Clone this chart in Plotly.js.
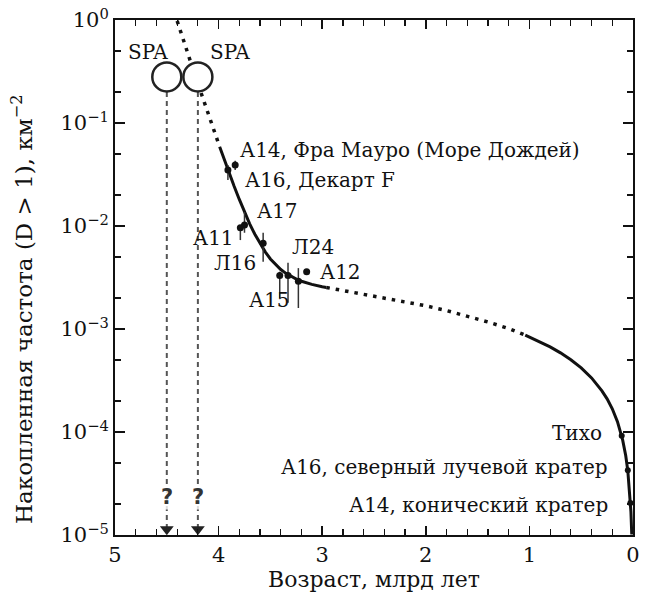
<!DOCTYPE html>
<html><head><meta charset="utf-8">
<script src="https://cdn.plot.ly/plotly-3.0.1.min.js"></script>
<style>body{margin:0;background:#fff}#chart{width:645px;height:596px}</style>
</head><body><div id="chart"></div>
<script>
// Curve, split into drawn segments
const earlyDotAge = [4.40, 4.35, 4.30, 4.25, 4.20, 4.15, 4.10, 4.05, 4.00, 3.99];
const earlyDotN   = [0.98, 0.676, 0.479, 0.340, 0.241, 0.172, 0.122, 0.0875, 0.0628, 0.0588];
const midSolidAge = [3.99, 3.95, 3.90, 3.85, 3.80, 3.75, 3.70, 3.65, 3.60, 3.55, 3.50, 3.45, 3.40, 3.35, 3.30, 3.25, 3.20, 3.15, 3.10, 3.00, 2.96];
const midSolidN   = [0.0588, 0.0454, 0.0330, 0.0243, 0.0181, 0.0137, 0.0105, 0.00832, 0.00674, 0.00561, 0.00479, 0.00421, 0.00378, 0.00347, 0.00323, 0.00305, 0.00291, 0.00280, 0.00271, 0.00257, 0.00253];
const lateDotAge  = [2.96, 2.80, 2.60, 2.40, 2.20, 2.00, 1.80, 1.60, 1.40, 1.20, 1.04];
const lateDotN    = [0.00253, 0.00236, 0.00218, 0.00201, 0.00184, 0.00168, 0.00151, 0.00134, 0.00117, 0.00101, 0.000872];
const youngAge    = [1.04, 0.90, 0.80, 0.70, 0.60, 0.50, 0.40, 0.30, 0.25, 0.20, 0.15, 0.10, 0.07, 0.05, 0.03, 0.02, 0.012];
const youngN      = [0.000872, 0.000754, 0.000670, 0.000587, 0.000503, 0.000419, 0.000335, 0.000251, 0.000210, 0.000168, 0.000126, 0.0000838, 0.0000587, 0.0000419, 0.0000251, 0.0000168, 0.0000101];

// Dated samples with vertical bars
const siteNames = ["А14", "А16", "А17", "А11", "Л16", "А15", "Л24", "А15b", "А12"];
const siteAge   = [3.84, 3.91, 3.75, 3.79, 3.57, 3.41, 3.33, 3.23, 3.15];
const siteN     = [0.039, 0.035, 0.0102, 0.0096, 0.0068, 0.0033, 0.0033, 0.0029, 0.0036];
const siteLow   = [0.035, 0.028, 0.0086, 0.0073, 0.0045, 0.0020, 0.0018, 0.0016, 0.0036];
const siteHigh  = [0.043, 0.039, 0.0137, 0.0102, 0.0086, 0.0036, 0.0044, 0.0039, 0.0036];

const youngSiteAge = [0.109, 0.050, 0.025];
const youngSiteN   = [0.000092, 0.0000425, 0.0000205];

const spaAge = [4.5, 4.2];
const spaN   = [0.28, 0.28];
const spaLineTop = 0.2;
const arrowY = 1.14e-5;

const xTicks = [5, 4, 3, 2, 1, 0];
const yTickVals = [1, 0.1, 0.01, 0.001, 0.0001, 0.00001];
const yTickText = ["10<sup>0</sup>", "10<sup>−1</sup>", "10<sup>−2</sup>", "10<sup>−3</sup>", "10<sup>−4</sup>", "10<sup>−5</sup>"];

const serif = "'DejaVu Serif', serif";
const dotDash = "3.5px,6px";
function mkFont(size) { return {family: serif, size: size, color: "#111"}; }

const traces = [];
spaAge.forEach(a => traces.push({x: [a, a], y: [spaLineTop, arrowY], mode: "lines", line: {color: "#555", width: 2, dash: "5px,4px"}, hoverinfo: "skip", cliponaxis: false}));
traces.push({x: earlyDotAge, y: earlyDotN, mode: "lines", line: {color: "#111", width: 3.5, dash: dotDash}});
traces.push({x: midSolidAge, y: midSolidN, mode: "lines", line: {color: "#111", width: 3}});
traces.push({x: lateDotAge, y: lateDotN, mode: "lines", line: {color: "#111", width: 3.5, dash: dotDash}});
traces.push({x: youngAge, y: youngN, mode: "lines", line: {color: "#111", width: 3}});
traces.push({x: siteAge, y: siteN, mode: "markers", marker: {color: "#111", size: 7},
  error_y: {type: "data", symmetric: false,
    array: siteHigh.map((h, i) => h - siteN[i]),
    arrayminus: siteN.map((n, i) => n - siteLow[i]),
    color: "#333", thickness: 1.5, width: 0}});
traces.push({x: youngSiteAge, y: youngSiteN, mode: "markers", marker: {color: "#111", size: 6}, cliponaxis: false});
traces.push({x: spaAge, y: spaN, mode: "markers", marker: {symbol: "circle", size: 29, color: "#fff", line: {color: "#222", width: 2.5}}, cliponaxis: false});
traces.push({x: spaAge, y: spaAge.map(() => arrowY), mode: "markers", marker: {symbol: "triangle-down", size: 12, color: "#222"}, cliponaxis: false});

function lab(text, x, y, xa) { return {text, x, y: Math.log10(y), xref: "x", yref: "y", xanchor: xa, yanchor: "middle", showarrow: false, font: mkFont(20)}; }
const annotations = [
  lab("А14, Фра Мауро (Море Дождей)", 3.81, 0.0547, "left"),
  lab("А16, Декарт F", 3.765, 0.028, "left"),
  lab("А17", 3.65, 0.014, "left"),
  lab("А11", 3.83, 0.0076, "right"),
  lab("Л16", 3.62, 0.0044, "right"),
  lab("Л24", 3.31, 0.0062, "left"),
  lab("А12", 3.04, 0.0036, "left"),
  lab("А15", 3.73, 0.0019, "left"),
  lab("Тихо", 0.28, 0.000098, "right"),
  lab("А16, северный лучевой кратер", 0.222, 0.0000457, "right"),
  lab("А14, конический кратер", 0.222, 0.0000195, "right"),
  lab("SPA", 4.68, 0.49, "center"),
  lab("SPA", 3.89, 0.49, "center"),
  {text: "Накопленная частота (D > 1), км<sup>−2</sup>", xref: "paper", yref: "paper", x: -0.1795, y: 0.437, xanchor: "center", yanchor: "middle", textangle: -90, showarrow: false, font: mkFont(23)}
];
spaAge.forEach(a => annotations.push({text: "<b>?</b>", x: a, y: Math.log10(2.34e-5), xref: "x", yref: "y", showarrow: false, xanchor: "center", yanchor: "middle", bgcolor: "rgba(255,255,255,0.8)", borderpad: 0, font: {family: "'DejaVu Sans', sans-serif", size: 21, color: "#333"}}));

const layout = {
  width: 645, height: 596,
  margin: {l: 115, r: 12, t: 20, b: 61},
  paper_bgcolor: "#fff", plot_bgcolor: "#fff",
  showlegend: false,
  font: mkFont(20),
  xaxis: {range: [5, 0], tickvals: xTicks, ticks: "inside", ticklen: 9, tickwidth: 1.5, tickcolor: "#111",
    showline: true, linecolor: "#111", linewidth: 2, mirror: "allticks", showgrid: false, zeroline: false,
    minor: {dtick: 0.2, ticks: "inside", ticklen: 6, tickwidth: 1.2, tickcolor: "#111", showgrid: false},
    tickfont: mkFont(21), title: {text: "Возраст, млрд лет", font: mkFont(22), standoff: 4}},
  yaxis: {type: "log", range: [-5, 0], tickvals: yTickVals, ticktext: yTickText, ticks: "inside", ticklen: 10, tickwidth: 1.5, tickcolor: "#111",
    showline: true, linecolor: "#111", linewidth: 2, mirror: "allticks", showgrid: false, zeroline: false,
    minor: {ticks: "inside", ticklen: 6, tickwidth: 1.2, tickcolor: "#111", showgrid: false},
    tickfont: mkFont(21)},
  annotations
};
Plotly.newPlot("chart", traces, layout, {staticPlot: true});
</script></body></html>
